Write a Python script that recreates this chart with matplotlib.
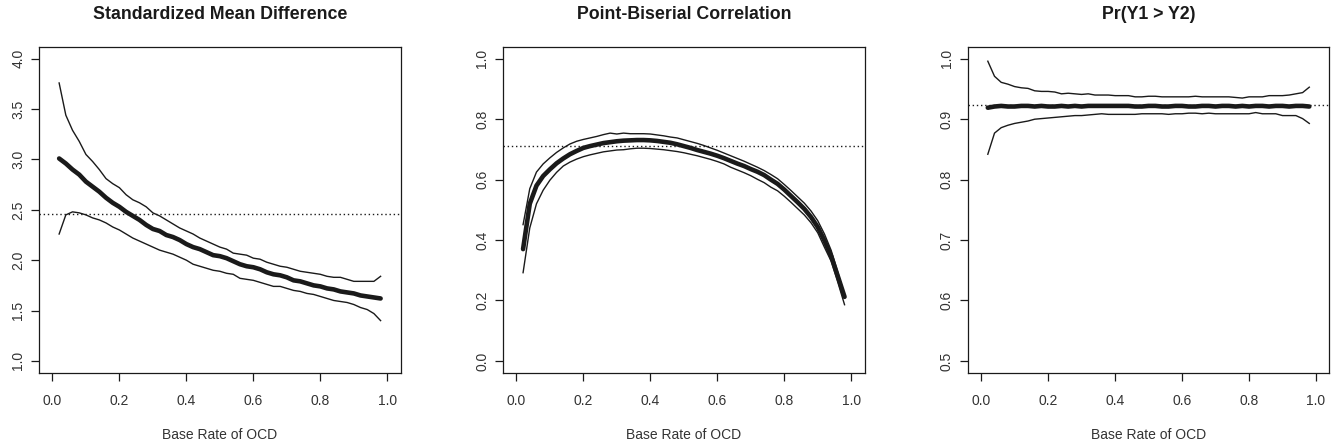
import numpy as np
import matplotlib
matplotlib.use("Agg")
import matplotlib.pyplot as plt

plt.rcParams['font.family'] = ['Liberation Sans', 'DejaVu Sans']

# base rates 0.02 .. 0.98
base_rate = [round(0.02 * i, 2) for i in range(1, 50)]

# Standardized mean difference
smd_upper = [3.76, 3.44, 3.29, 3.18, 3.05, 2.98, 2.90, 2.81, 2.76, 2.72,
             2.65, 2.60, 2.57, 2.53, 2.47, 2.44, 2.40, 2.36, 2.32, 2.29,
             2.26, 2.22, 2.19, 2.16, 2.13, 2.11, 2.07, 2.06, 2.05, 2.02,
             2.01, 1.98, 1.96, 1.94, 1.93, 1.91, 1.89, 1.88, 1.87, 1.86,
             1.84, 1.83, 1.83, 1.81, 1.79, 1.79, 1.79, 1.79, 1.84]
smd_mid = [3.01, 2.96, 2.90, 2.85, 2.78, 2.73, 2.68, 2.62, 2.57, 2.53,
           2.48, 2.44, 2.40, 2.35, 2.31, 2.29, 2.25, 2.23, 2.20, 2.16,
           2.13, 2.11, 2.08, 2.05, 2.04, 2.02, 1.99, 1.96, 1.94, 1.93,
           1.91, 1.88, 1.86, 1.85, 1.83, 1.80, 1.79, 1.77, 1.75, 1.74,
           1.72, 1.71, 1.69, 1.68, 1.67, 1.65, 1.64, 1.63, 1.62]
smd_lower = [2.26, 2.45, 2.48, 2.47, 2.45, 2.42, 2.40, 2.37, 2.33, 2.30,
             2.26, 2.22, 2.19, 2.16, 2.13, 2.10, 2.08, 2.06, 2.03, 2.00,
             1.96, 1.94, 1.92, 1.90, 1.89, 1.87, 1.86, 1.82, 1.81, 1.80,
             1.78, 1.76, 1.74, 1.74, 1.72, 1.70, 1.69, 1.67, 1.66, 1.64,
             1.62, 1.60, 1.59, 1.58, 1.56, 1.53, 1.51, 1.47, 1.40]
smd_ref = 2.46

# Point-biserial correlation
rpb_upper = [0.451, 0.570, 0.625, 0.652, 0.672, 0.690, 0.705, 0.718, 0.727, 0.733,
             0.738, 0.743, 0.749, 0.754, 0.751, 0.754, 0.752, 0.752, 0.752, 0.751,
             0.748, 0.745, 0.741, 0.738, 0.732, 0.726, 0.720, 0.713, 0.705, 0.697,
             0.688, 0.679, 0.670, 0.661, 0.651, 0.641, 0.630, 0.617, 0.603, 0.584,
             0.564, 0.543, 0.522, 0.496, 0.464, 0.420, 0.366, 0.293, 0.215]
rpb_mid = [0.370, 0.520, 0.580, 0.612, 0.634, 0.654, 0.670, 0.684, 0.695, 0.705,
           0.711, 0.716, 0.721, 0.724, 0.727, 0.729, 0.730, 0.731, 0.731, 0.730,
           0.728, 0.725, 0.722, 0.717, 0.711, 0.705, 0.698, 0.692, 0.686, 0.679,
           0.671, 0.662, 0.653, 0.645, 0.635, 0.626, 0.615, 0.600, 0.586, 0.567,
           0.546, 0.525, 0.503, 0.476, 0.443, 0.398, 0.347, 0.280, 0.212]
rpb_lower = [0.292, 0.440, 0.520, 0.565, 0.598, 0.624, 0.645, 0.658, 0.668, 0.676,
             0.682, 0.687, 0.692, 0.695, 0.698, 0.699, 0.702, 0.704, 0.704, 0.703,
             0.701, 0.699, 0.696, 0.693, 0.689, 0.684, 0.679, 0.673, 0.667, 0.660,
             0.652, 0.641, 0.632, 0.623, 0.613, 0.601, 0.590, 0.575, 0.563, 0.545,
             0.525, 0.504, 0.483, 0.457, 0.424, 0.376, 0.330, 0.260, 0.186]
rpb_ref = 0.711

# Pr(Y1 > Y2)
pr_upper = [0.996, 0.971, 0.961, 0.958, 0.954, 0.952, 0.951, 0.947, 0.946, 0.946,
            0.945, 0.942, 0.943, 0.942, 0.941, 0.942, 0.940, 0.940, 0.940, 0.939,
            0.939, 0.939, 0.937, 0.937, 0.938, 0.938, 0.937, 0.937, 0.937, 0.937,
            0.937, 0.938, 0.937, 0.937, 0.937, 0.937, 0.937, 0.936, 0.935, 0.937,
            0.937, 0.937, 0.939, 0.939, 0.939, 0.940, 0.942, 0.944, 0.953]
pr_mid = [0.919, 0.921, 0.922, 0.921, 0.921, 0.922, 0.922, 0.921, 0.922, 0.921,
          0.921, 0.922, 0.921, 0.922, 0.921, 0.922, 0.922, 0.922, 0.922, 0.922,
          0.922, 0.922, 0.921, 0.921, 0.922, 0.922, 0.921, 0.921, 0.922, 0.922,
          0.921, 0.921, 0.922, 0.922, 0.921, 0.922, 0.922, 0.921, 0.922, 0.921,
          0.922, 0.922, 0.921, 0.922, 0.922, 0.921, 0.922, 0.922, 0.921]
pr_lower = [0.842, 0.877, 0.886, 0.890, 0.893, 0.895, 0.897, 0.900, 0.901, 0.902,
            0.903, 0.904, 0.905, 0.906, 0.906, 0.907, 0.908, 0.909, 0.908, 0.908,
            0.908, 0.908, 0.908, 0.909, 0.909, 0.909, 0.909, 0.908, 0.909, 0.909,
            0.910, 0.910, 0.909, 0.910, 0.909, 0.909, 0.909, 0.909, 0.909, 0.909,
            0.911, 0.909, 0.909, 0.909, 0.906, 0.906, 0.906, 0.901, 0.893]
pr_ref = 0.923

titles = ["Standardized Mean Difference", "Point-Biserial Correlation", "Pr(Y1 > Y2)"]
x_label = "Base Rate of OCD"
x_ticks = [0.0, 0.2, 0.4, 0.6, 0.8, 1.0]
y_ticks = [[1.0, 1.5, 2.0, 2.5, 3.0, 3.5, 4.0],
           [0.0, 0.2, 0.4, 0.6, 0.8, 1.0],
           [0.5, 0.6, 0.7, 0.8, 0.9, 1.0]]
panels = [(smd_upper, smd_mid, smd_lower, smd_ref),
          (rpb_upper, rpb_mid, rpb_lower, rpb_ref),
          (pr_upper, pr_mid, pr_lower, pr_ref)]

ink = '#1a1a1a'
fig = plt.figure(figsize=(13.37, 4.46), dpi=100)
lefts = [0.0292, 0.3762, 0.7238]

for i, (up, mid, lo, ref) in enumerate(panels):
    ax = fig.add_axes([lefts[i], 0.1637, 0.2705, 0.7316])
    ax.plot(base_rate, up, color=ink, lw=1.0)
    ax.plot(base_rate, lo, color=ink, lw=1.0)
    ax.plot(base_rate, mid, color=ink, lw=3.3, solid_capstyle='round')
    ax.axhline(ref, color=ink, lw=1.0, linestyle=(0, (1, 2)))

    yt = y_ticks[i]
    pad_y = (yt[-1] - yt[0]) * 0.04
    ax.set_xlim(-0.04, 1.04)
    ax.set_ylim(yt[0] - pad_y, yt[-1] + pad_y)
    ax.set_xticks(x_ticks)
    ax.set_xticklabels([f"{t:.1f}" for t in x_ticks])
    ax.set_yticks(yt)
    ax.set_yticklabels([f"{t:.1f}" for t in yt], rotation=90, va='center')
    ax.tick_params(axis='both', direction='out', length=6, width=0.9,
                   colors=ink, labelsize=10, labelcolor='#333333')
    ax.tick_params(axis='x', pad=9)
    ax.tick_params(axis='y', pad=4)
    for s in ax.spines.values():
        s.set_color(ink)
        s.set_linewidth(0.9)

    ax.set_xlabel(x_label, fontsize=10, color='#333333', va='center')
    ax.xaxis.set_label_coords(0.5, -0.19)
    ax.text(0.5, 1.1, titles[i], transform=ax.transAxes, ha='center', va='center',
            fontsize=12.8, fontweight='bold', color=ink)

fig.savefig("out.png", dpi=100, facecolor='white')
